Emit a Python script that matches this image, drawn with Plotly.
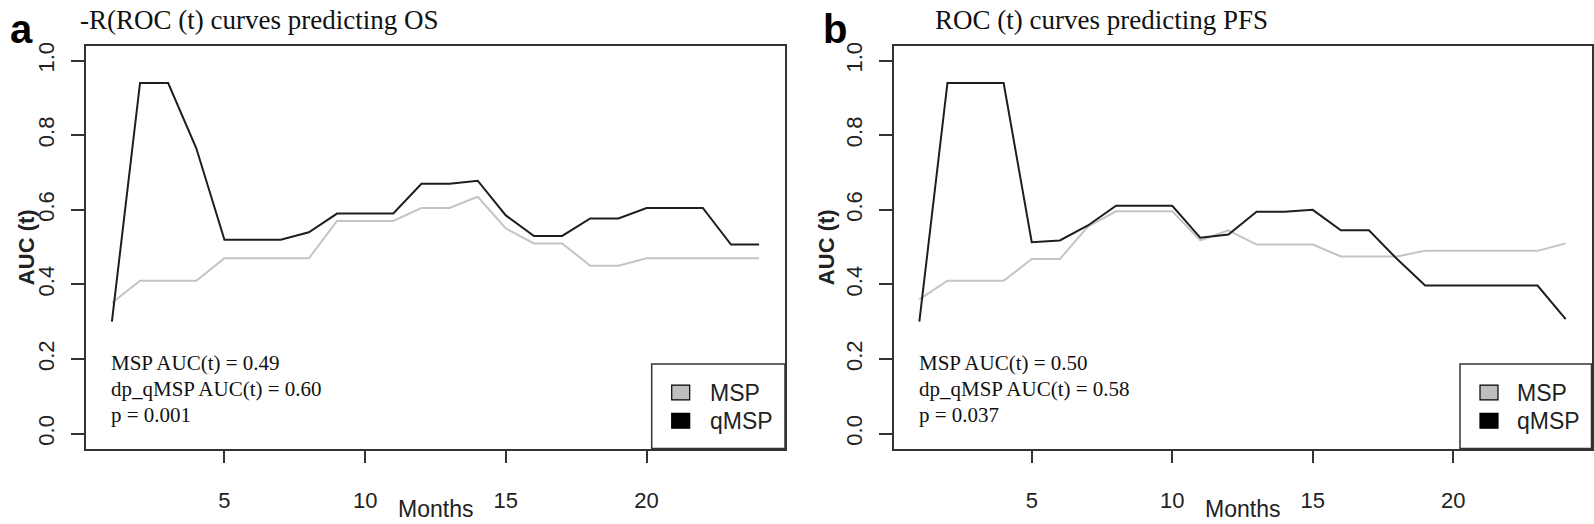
import plotly.graph_objects as go

# ---------------- data ----------------
months = list(range(1, 25))

os_msp = [0.35, 0.41, 0.41, 0.41, 0.47, 0.47, 0.47, 0.47, 0.57, 0.57, 0.57, 0.605,
          0.605, 0.635, 0.55, 0.51, 0.51, 0.45, 0.45, 0.47, 0.47, 0.47, 0.47, 0.47]
os_qmsp = [0.30, 0.94, 0.94, 0.765, 0.52, 0.52, 0.52, 0.54, 0.59, 0.59, 0.59, 0.67,
           0.67, 0.678, 0.585, 0.53, 0.53, 0.577, 0.577, 0.605, 0.605, 0.605, 0.507, 0.507]

pfs_msp = [0.36, 0.41, 0.41, 0.41, 0.468, 0.468, 0.555, 0.596, 0.596, 0.596, 0.518, 0.545,
           0.507, 0.507, 0.507, 0.475, 0.475, 0.475, 0.49, 0.49, 0.49, 0.49, 0.49, 0.51]
pfs_qmsp = [0.30, 0.94, 0.94, 0.94, 0.513, 0.518, 0.558, 0.611, 0.611, 0.611, 0.525, 0.534,
            0.595, 0.595, 0.60, 0.545, 0.545, 0.468, 0.397, 0.397, 0.397, 0.397, 0.397, 0.307]

x_ticks = [5, 10, 15, 20]
y_ticks = [0.0, 0.2, 0.4, 0.6, 0.8, 1.0]
y_tick_labels = ["0.0", "0.2", "0.4", "0.6", "0.8", "1.0"]

titles = ["-R(ROC (t) curves predicting OS", "ROC (t) curves predicting PFS"]
panel_letters = ["a", "b"]
stats_a = ["MSP AUC(t) = 0.49", "dp_qMSP AUC(t) = 0.60", "p = 0.001"]
stats_b = ["MSP AUC(t) = 0.50", "dp_qMSP AUC(t) = 0.58", "p = 0.037"]
legend_names = ["MSP", "qMSP"]

# ---------------- layout helpers ----------------
W, H = 1594, 524
def px(x):
    return x / W
def py(y):
    return 1 - y / H

GRAY = "#c4c4c4"
BLACK = "#1e1e1e"
AX = "#333333"
SANS = "Liberation Sans, Arial, sans-serif"
SERIF = "Liberation Serif, Times New Roman, serif"

fig = go.Figure()

fig.add_trace(go.Scatter(x=months, y=os_msp, mode="lines", line=dict(color=GRAY, width=2),
                         xaxis="x", yaxis="y", showlegend=False, name="MSP"))
fig.add_trace(go.Scatter(x=months, y=os_qmsp, mode="lines", line=dict(color=BLACK, width=2),
                         xaxis="x", yaxis="y", showlegend=False, name="qMSP"))
fig.add_trace(go.Scatter(x=months, y=pfs_msp, mode="lines", line=dict(color=GRAY, width=2),
                         xaxis="x2", yaxis="y2", showlegend=False, name="MSP"))
fig.add_trace(go.Scatter(x=months, y=pfs_qmsp, mode="lines", line=dict(color=BLACK, width=2),
                         xaxis="x2", yaxis="y2", showlegend=False, name="qMSP"))

ydom = [py(448), py(42)]
common_x = dict(range=[0.08, 24.92], tickvals=x_ticks, ticks="outside", ticklen=13, tickwidth=1.5,
                tickcolor=AX, showline=True, linecolor=AX, linewidth=1.5, mirror=True,
                showgrid=False, zeroline=False, tickfont=dict(family=SANS, size=22, color="#222"),
                ticklabelstandoff=18)
common_y = dict(range=[-0.04, 1.04], tickvals=y_ticks, ticktext=y_tick_labels, ticks="outside",
                ticklen=13, tickwidth=1.5, tickcolor=AX, showline=True, linecolor=AX, linewidth=1.5,
                mirror=True, showgrid=False, zeroline=False, tickangle=-90,
                tickfont=dict(family=SANS, size=22, color="#222"), ticklabelstandoff=8)

fig.update_layout(
    width=W, height=H, margin=dict(l=0, r=0, t=0, b=0),
    paper_bgcolor="white", plot_bgcolor="white", showlegend=False,
    xaxis=dict(domain=[px(86), px(785)], anchor="y", **common_x),
    yaxis=dict(domain=ydom, anchor="x", **common_y),
    xaxis2=dict(domain=[px(893.5), px(1591.5)], anchor="y2", **common_x),
    yaxis2=dict(domain=ydom, anchor="x2", **common_y),
)

ann = []
shapes = []
panels = [
    dict(left=86, right=785, title_x=78, letter_x=8, stats=stats_a, stats_x=109,
         leg_x0=651.7, sq_x=671.7, txt_x=708, auc_x=26),
    dict(left=893.5, right=1591.5, title_x=933, letter_x=821, stats=stats_b, stats_x=917,
         leg_x0=1460, sq_x=1480, txt_x=1515, auc_x=826),
]
for i, p in enumerate(panels):
    ann.append(dict(x=px(p["title_x"]), y=py(16), xref="paper", yref="paper", xanchor="left",
                    yanchor="middle", text=titles[i], showarrow=False,
                    font=dict(family=SERIF, size=27, color="#111")))
    ann.append(dict(x=px(p["letter_x"]), y=py(25), xref="paper", yref="paper", xanchor="left",
                    yanchor="middle", text="<b>" + panel_letters[i] + "</b>", showarrow=False,
                    font=dict(family=SANS, size=40, color="#000")))
    ann.append(dict(x=px(p["auc_x"]), y=py(245), xref="paper", yref="paper", xanchor="center",
                    yanchor="middle", text="<b>AUC (t)</b>", textangle=-90, showarrow=False,
                    font=dict(family=SANS, size=22, color="#222")))
    ann.append(dict(x=px((p["left"] + p["right"]) / 2), y=py(509), xref="paper", yref="paper",
                    xanchor="center", yanchor="middle", text="Months", showarrow=False,
                    font=dict(family=SANS, size=23, color="#222")))
    for j, line in enumerate(p["stats"]):
        ann.append(dict(x=px(p["stats_x"]), y=py(362 + 26 * j), xref="paper", yref="paper",
                        xanchor="left", yanchor="middle", text=line, showarrow=False,
                        font=dict(family=SERIF, size=21, color="#111")))
    # legend box
    shapes.append(dict(type="rect", xref="paper", yref="paper", x0=px(p["leg_x0"]), x1=px(p["right"]),
                       y0=py(448), y1=py(362.7), line=dict(color=AX, width=1.5), fillcolor="white"))
    for j, (nm, col) in enumerate(zip(legend_names, ["#bebebe", "#000000"])):
        yc = 391.5 + 28.5 * j
        shapes.append(dict(type="rect", xref="paper", yref="paper", x0=px(p["sq_x"]), x1=px(p["sq_x"] + 18),
                           y0=py(yc + 7.5), y1=py(yc - 7.5), line=dict(color="#000", width=1.2),
                           fillcolor=col))
        ann.append(dict(x=px(p["txt_x"]), y=py(yc), xref="paper", yref="paper", xanchor="left",
                        yanchor="middle", text=nm, showarrow=False,
                        font=dict(family=SANS, size=23, color="#222")))

fig.update_layout(annotations=ann, shapes=shapes)
fig.write_html("out.html", config={"displayModeBar": False},
               post_script="document.body.style.margin='0';document.body.style.padding='0';")
